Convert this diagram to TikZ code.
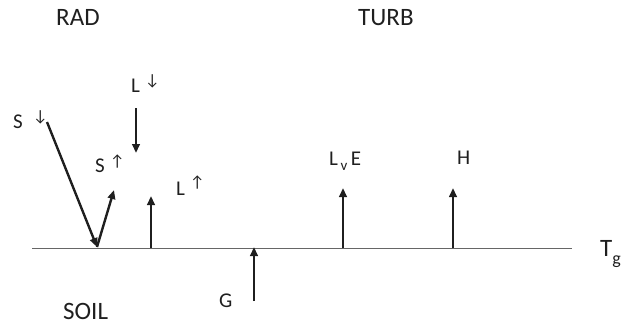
\documentclass[tikz,border=0pt]{standalone}
\usepackage{fontspec}
\setmainfont{Carlito}
\usetikzlibrary{arrows.meta}
\begin{document}
\begin{tikzpicture}[x=1pt,y=-1pt,
  flux/.style={line width=2.4pt,color=black!88,-{Triangle[length=9pt,width=7.5pt]}},
  title/.style={font=\fontsize{25}{25}\selectfont,inner sep=0pt,anchor=base west,text=black!88},
  lbl/.style={font=\fontsize{21}{21}\selectfont,inner sep=0pt,anchor=base west,text=black!88},
  sarr/.style={font=\fontsize{16}{16}\selectfont,inner sep=0pt,anchor=base west,text=black!88},
  ground/.style={line width=1pt,color=black!60}]
\useasboundingbox (0,0) rectangle (632,324);
% titles
\node[title] (rad) at (56,25) {RAD};
\node[title] (turb) at (358,25) {TURB};
\node[title] (soil) at (63,319) {SOIL};
% ground line
\coordinate (gl) at (32,248);
\coordinate (gr) at (572,248);
\draw[ground] (gl) -- (gr);
\node[title] (tg) at (600,256) {T\raisebox{-8pt}{\fontsize{18}{18}\selectfont g}};
% radiation arrows
\coordinate (sin0) at (47,122);
\coordinate (hit) at (97,247);
\coordinate (sout) at (114,190);
\draw[flux] (sin0) -- (hit);
\draw[flux] (hit) -- (sout);
\coordinate (ld0) at (136,108);
\coordinate (ld1) at (136,153);
\draw[flux] (ld0) -- (ld1);
\coordinate (lu0) at (151,248);
\coordinate (lu1) at (151,196);
\draw[flux] (lu0) -- (lu1);
% turbulent arrows
\coordinate (le0) at (343,248);
\coordinate (le1) at (343,188);
\draw[flux] (le0) -- (le1);
\coordinate (h0) at (453,248);
\coordinate (h1) at (453,188);
\draw[flux] (h0) -- (h1);
% ground flux
\coordinate (g0) at (254,301);
\coordinate (g1) at (254,247);
\draw[flux] (g0) -- (g1);
% labels
\node[lbl] (sdn) at (13,128) {S};
\node[sarr] (sdnar) at (33,121) {↓};
\node[lbl] (ldn) at (131,92) {L};
\node[sarr] (ldnar) at (145,85) {↓};
\node[lbl] (sup) at (95,172) {S};
\node[sarr] (supar) at (110,166) {↑};
\node[lbl] (lup) at (176,195) {L};
\node[sarr] (lupar) at (190,187) {↑};
\node[lbl] (lve) at (329,165) {L\raisebox{-5pt}{\fontsize{15}{15}\selectfont\,v}\,E};
\node[lbl] (hlab) at (457,164) {H};
\node[lbl] (glab) at (219,307) {G};
\end{tikzpicture}
\end{document}
